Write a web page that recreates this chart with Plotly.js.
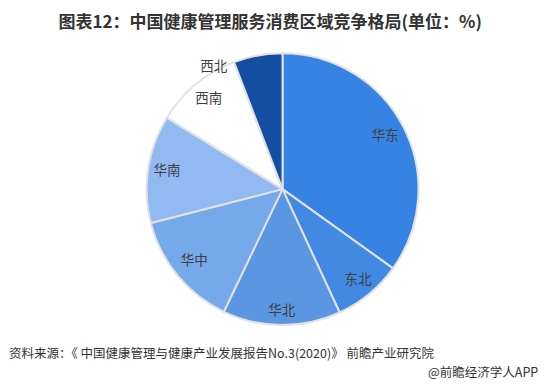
<!DOCTYPE html>
<html>
<head>
<meta charset="utf-8">
<script src="https://cdn.plot.ly/plotly-3.0.1.min.js"></script>
<style>html,body{margin:0;padding:0;background:#fff;}#chart{width:547px;height:384px;}</style>
</head>
<body>
<div id="chart"></div>
<script>
const regions = ['华东', '东北', '华北', '华中', '华南', '西南', '西北'];
const shares = [34.9, 8.2, 14.0, 13.9, 12.8, 10.4, 5.8];
const colors = ['#3683e4', '#4189e2', '#5b96e3', '#76a8ec', '#91baf2', '#ffffff', '#134ea0'];

// label placement (style): relative radius and angular shift per label
const labelRadius = [0.85, 0.87, 0.9, 0.84, 0.86, 0.85, 1.03];
const labelShift = [0, 0, 0, 0, 0, 0, -19];

const titleText = '图表12：中国健康管理服务消费区域竞争格局(单位：%)';
const sourceText = '资料来源：《 中国健康管理与健康产业发展报告No.3(2020)》 前瞻产业研究院';
const creditText = '@前瞻经济学人APP';

const total = shares.reduce((a, b) => a + b, 0);
const widths = shares.map(v => v / total * 360);
let acc = 0;
const mids = widths.map(w => { const m = acc + w / 2; acc += w; return m; });
const labelAngles = mids.map((m, i) => m + labelShift[i]);

const slices = {
  type: 'barpolar',
  r: regions.map(() => 1),
  theta: mids,
  width: widths,
  text: regions,
  marker: { color: colors, line: { color: '#e2e2e2', width: 2 } },
  hovertemplate: '%{text}: %{customdata}%<extra></extra>',
  customdata: shares,
  showlegend: false
};

const labelsTrace = {
  type: 'scatterpolar',
  mode: 'text',
  r: labelRadius,
  theta: labelAngles,
  text: regions,
  textposition: 'middle center',
  textfont: { family: 'Noto Sans CJK SC, sans-serif', size: 13.5, color: '#404040' },
  cliponaxis: false,
  hoverinfo: 'skip',
  showlegend: false
};

const layout = {
  width: 547, height: 384,
  margin: { l: 0, r: 0, t: 0, b: 0 },
  paper_bgcolor: '#ffffff',
  polar: {
    domain: { x: [0.243, 0.790], y: [0.118, 0.897] },
    bgcolor: 'rgba(0,0,0,0)',
    bargap: 0,
    radialaxis: { range: [0, 1.1], visible: false, showgrid: false },
    angularaxis: { rotation: 90, direction: 'clockwise', visible: false, showgrid: false, showline: false }
  },
  title: {
    text: '<b>' + titleText + '</b>',
    x: 0.494, xanchor: 'center', y: 0.943, yanchor: 'middle',
    font: { family: 'Noto Sans CJK SC, sans-serif', size: 17, color: '#333333' }
  },
  annotations: [
    { text: sourceText, xref: 'paper', yref: 'paper', x: 0.013, y: 1 - 352/384,
      xanchor: 'left', yanchor: 'middle', showarrow: false,
      font: { family: 'Noto Sans CJK SC, sans-serif', size: 12.5, color: '#333333' } },
    { text: creditText, xref: 'paper', yref: 'paper', x: 0.988, y: 1 - 371/384,
      xanchor: 'right', yanchor: 'middle', showarrow: false,
      font: { family: 'Noto Sans CJK SC, sans-serif', size: 12.5, color: '#333333' } }
  ]
};

Plotly.newPlot('chart', [slices, labelsTrace], layout, { displayModeBar: false, staticPlot: true });
</script>
</body>
</html>
